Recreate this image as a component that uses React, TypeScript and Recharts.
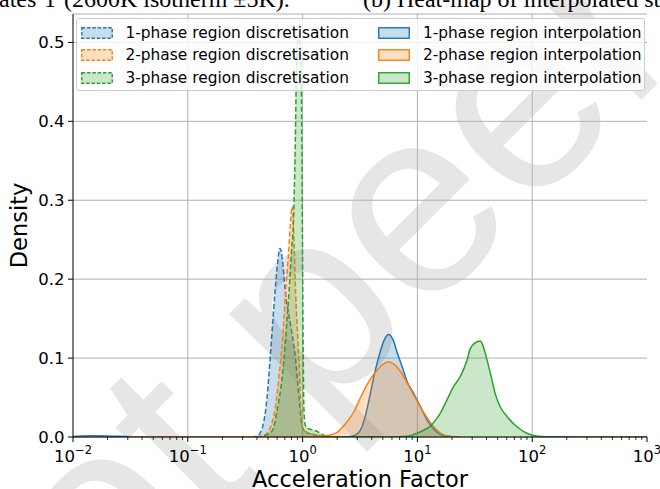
import React from 'react';
import { ComposedChart, Area, XAxis, YAxis, CartesianGrid } from 'recharts';

type Pt = [number, number];

const FONT = '"DejaVu Sans", sans-serif';

// KDE curves: [acceleration factor, density]
const disc1: Pt[] = [
  [0.36, 0], [0.40, 0.001], [0.43, 0.006], [0.46, 0.02], [0.49, 0.05], [0.52, 0.097],
  [0.546, 0.14], [0.574, 0.182], [0.60, 0.215], [0.635, 0.239], [0.665, 0.226], [0.71, 0.182],
  [0.79, 0.14], [0.87, 0.097], [0.93, 0.05], [0.99, 0.013], [1.08, 0.006], [1.25, 0.003],
  [1.5, 0.0008], [1.9, 0],
];
const disc2: Pt[] = [
  [0.40, 0], [0.46, 0.002], [0.50, 0.006], [0.527, 0.013], [0.575, 0.035], [0.622, 0.076],
  [0.67, 0.125], [0.71, 0.182], [0.76, 0.24], [0.79, 0.278], [0.81, 0.292], [0.835, 0.262],
  [0.87, 0.182], [0.93, 0.097], [0.99, 0.013], [1.08, 0.006], [1.3, 0.003], [1.6, 0.0008], [2.0, 0],
];
const disc3: Pt[] = [
  [0.40, 0], [0.49, 0.003], [0.545, 0.008], [0.60, 0.034], [0.65, 0.065], [0.687, 0.097],
  [0.72, 0.135], [0.76, 0.182], [0.80, 0.235], [0.84, 0.292], [0.865, 0.38], [0.887, 0.477],
  [0.91, 0.505], [0.935, 0.51], [0.96, 0.49], [0.975, 0.45], [0.99, 0.33], [0.997, 0.25],
  [1.007, 0.15], [1.014, 0.097], [1.025, 0.04], [1.05, 0.016], [1.1, 0.011], [1.2, 0.0095],
  [1.35, 0.0068], [1.5, 0.003], [1.7, 0],
];
const interp1: Pt[] = [
  [0.01, 0.0007], [0.012, 0.0012], [0.015, 0.0016], [0.019, 0.0014], [0.025, 0.0009],
  [0.033, 0.0004], [0.045, 0.0001], [0.07, 0], [2.3, 0], [2.7, 0.001], [3.1, 0.006],
  [3.45, 0.022], [3.8, 0.048], [4.2, 0.078], [4.7, 0.106], [5.15, 0.123], [5.6, 0.13],
  [6.1, 0.124], [6.7, 0.106], [7.4, 0.088], [8.2, 0.069], [9.3, 0.055], [10.5, 0.04],
  [12.1, 0.022], [13.8, 0.01], [16, 0.003], [19, 0.0005], [23, 0],
];
const interp2: Pt[] = [
  [0.03, 0], [1.3, 0], [1.6, 0.0015], [2.0, 0.006], [2.4, 0.018], [2.8, 0.032], [3.2, 0.05],
  [3.7, 0.068], [4.3, 0.082], [5.0, 0.092], [5.6, 0.0955], [6.3, 0.092], [7.2, 0.082],
  [8.3, 0.066], [9.9, 0.046], [11.5, 0.03], [13.5, 0.015], [15.8, 0.005], [18.7, 0.001], [24, 0],
];
const interp3: Pt[] = [
  [1.5, 0], [6.5, 0], [7.6, 0.0005], [8.8, 0.002], [9.93, 0.0047], [11.5, 0.009], [13, 0.014],
  [14.5, 0.022], [15.8, 0.03], [18.1, 0.047], [20.7, 0.064], [23.7, 0.077], [27, 0.097],
  [28.9, 0.112], [31.6, 0.119], [35.3, 0.1215], [37, 0.117], [39, 0.106], [43.2, 0.081],
  [47.6, 0.055], [52.7, 0.038], [60.3, 0.026], [73.6, 0.013], [90, 0.0047], [112, 0.001],
  [160, 0.0002], [250, 0], [1000, 0],
];

const series = [
  { key: 'disc1', name: '1-phase region discretisation', color: '#1f77b4', dashed: true, pts: disc1 },
  { key: 'disc2', name: '2-phase region discretisation', color: '#ff7f0e', dashed: true, pts: disc2 },
  { key: 'disc3', name: '3-phase region discretisation', color: '#2ca02c', dashed: true, pts: disc3 },
  { key: 'interp1', name: '1-phase region interpolation', color: '#1f77b4', dashed: false, pts: interp1 },
  { key: 'interp2', name: '2-phase region interpolation', color: '#ff7f0e', dashed: false, pts: interp2 },
  { key: 'interp3', name: '3-phase region interpolation', color: '#2ca02c', dashed: false, pts: interp3 },
];

const decades = [0.01, 0.1, 1, 10, 100, 1000];
const decadeExp = ['−2', '−1', '0', '1', '2', '3'];
const yTicks = [0, 0.1, 0.2, 0.3, 0.4, 0.5];

// log minor ticks 2..9 in each decade
const minorTicks: number[] = [];
for (let k = -2; k < 3; k++) {
  for (let m = 2; m < 10; m++) minorTicks.push(+(m * Math.pow(10, k)).toPrecision(3));
}
const xTicks = [...decades, ...minorTicks].sort((a, b) => a - b);

// merge every curve onto one table keyed by x
const rowMap = new Map<number, Record<string, number>>();
series.forEach((s) =>
  s.pts.forEach(([x, y]) => {
    const r = rowMap.get(x) ?? { x };
    r[s.key] = y;
    rowMap.set(x, r);
  })
);
const rows = [...rowMap.values()].sort((a, b) => a.x - b.x);

const XTick = (props: any) => {
  const { x, y, payload } = props;
  const i = decades.indexOf(payload.value);
  const major = i >= 0;
  return (
    <g>
      <line x1={x} x2={x} y1={y} y2={y + (major ? 5 : 3)} stroke="#000" strokeWidth={major ? 1 : 0.8} />
      {major && (
        <text x={x} y={y + 24.5} textAnchor="middle" fontSize={16.5} fontFamily={FONT} fill="#000">
          10<tspan dy={-7.5} fontSize={11.5}>{decadeExp[i]}</tspan>
        </text>
      )}
    </g>
  );
};

const LegendBox = () => (
  <div
    style={{
      position: 'absolute', left: 75.5, top: 17.5, width: 569, height: 73,
      border: '1px solid #cccccc', borderRadius: 3, background: 'rgba(255,255,255,0.8)',
      boxSizing: 'border-box', fontFamily: FONT, fontSize: 15.4, color: '#000',
    }}
  >
    {series.map((s, i) => {
      const col = Math.floor(i / 3);
      const row = i % 3;
      return (
        <div key={s.key} style={{ position: 'absolute', left: 4 + col * 297.5, top: 14 + row * 22.5 - 9, height: 18, display: 'flex', alignItems: 'center', whiteSpace: 'nowrap' }}>
          <svg width={32} height={12} style={{ marginRight: 13 }}>
            <rect x={0.75} y={0.75} width={30.5} height={10.5} fill={s.color} fillOpacity={0.25}
              stroke={s.color} strokeWidth={1.4} strokeDasharray={s.dashed ? '3.5 1.8' : undefined} />
          </svg>
          <span>{s.name}</span>
        </div>
      );
    })}
  </div>
);

export default function App() {
  return (
    <div style={{ position: 'absolute', left: 0, top: 0, width: 660, height: 489, background: '#fff', overflow: 'hidden' }}>
      <svg width={660} height={489} style={{ position: 'absolute', left: 0, top: 0 }}>
        {/* page watermark behind the figure */}
        <text x={-705} y={1446} transform="rotate(-45 -705 1446)" fontSize={265}
          fontFamily='"Liberation Sans", sans-serif' fill="#e6e6e6">
          Preprint not peer reviewed
        </text>
        {/* caption line of the page above, cut by the figure's edge */}
        <g fontFamily='"Liberation Serif", serif' fontSize={24} fill="#000">
          <text x={-1} y={7}>ates</text>
          <text x={44} y={7}>1</text>
          <text x={64} y={7}>(2600K isotherm ±5K).</text>
          <text x={363} y={7}>(b) Heat-map of interpolated st</text>
        </g>
        <text x={360} y={487} textAnchor="middle" fontSize={22.5} fontFamily={FONT} fill="#000">Acceleration Factor</text>
        <text x={0} y={0} transform="translate(27 225.5) rotate(-90)" textAnchor="middle" fontSize={22.5} fontFamily={FONT} fill="#000">Density</text>
      </svg>
      <div style={{ position: 'absolute', left: 0, top: 0 }}>
        <ComposedChart width={660} height={489} data={rows} margin={{ top: 14, right: 13, bottom: 0, left: 0 }}>
          <CartesianGrid stroke="#b0b0b0" strokeWidth={1} verticalValues={[0.1, 1, 10, 100]} />
          <XAxis dataKey="x" type="number" scale="log" domain={[0.01, 1000]} allowDataOverflow
            ticks={xTicks} interval={0} tick={(p: any) => <XTick {...p} />} tickSize={0} tickMargin={0}
            tickLine={false} axisLine={{ stroke: '#000', strokeWidth: 1 }} height={52} />
          <XAxis xAxisId="top" orientation="top" type="number" domain={[0.01, 1000]} height={0}
            tick={false} tickLine={false} axisLine={{ stroke: '#000', strokeWidth: 1 }} />
          <YAxis type="number" domain={[0, 0.536]} allowDataOverflow ticks={yTicks} width={73}
            tickFormatter={(v: number) => v.toFixed(1)} tickSize={5} tickMargin={3.5}
            tick={{ fontSize: 16.5, fill: '#000', fontFamily: FONT }}
            tickLine={{ stroke: '#000' }} axisLine={{ stroke: '#000', strokeWidth: 1 }} />
          <YAxis yAxisId="right" orientation="right" type="number" domain={[0, 0.536]} width={0}
            tick={false} tickLine={false} axisLine={{ stroke: '#000', strokeWidth: 1 }} />
          {series.map((s) => (
            <Area key={s.key} type="monotone" dataKey={s.key} name={s.name} connectNulls
              stroke={s.color} strokeWidth={1.5} strokeDasharray={s.dashed ? '5 2.5' : undefined}
              fill={s.color} fillOpacity={0.25} dot={false} activeDot={false} isAnimationActive={false} />
          ))}
        </ComposedChart>
      </div>
      <LegendBox />
    </div>
  );
}
